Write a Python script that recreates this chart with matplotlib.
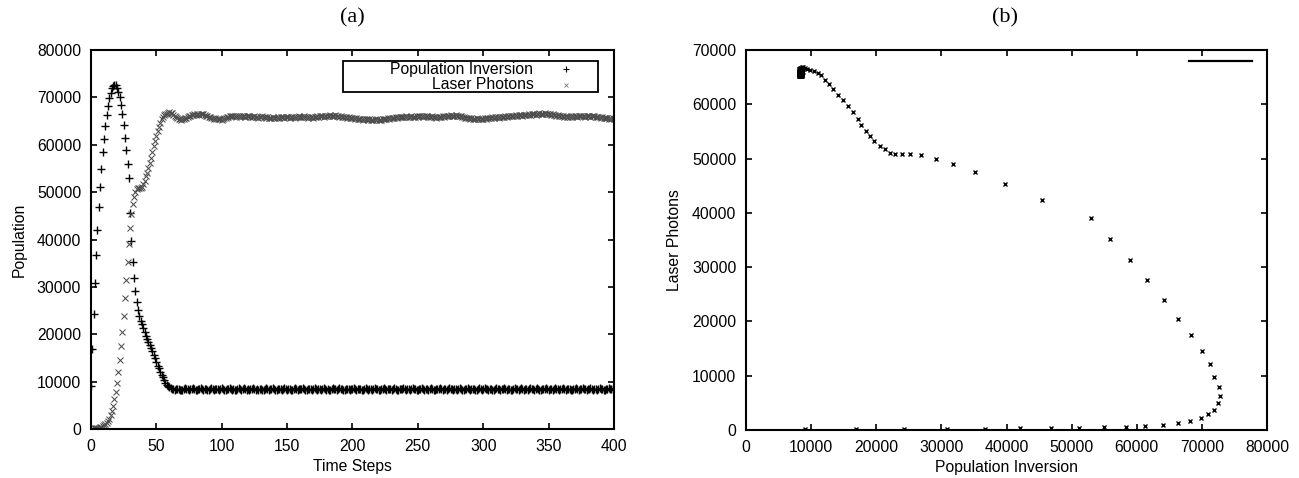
import numpy as np
import matplotlib
matplotlib.use("Agg")
import matplotlib.pyplot as plt
from matplotlib.patches import Rectangle

# Values are in hundreds, one value per time step (t = 0 .. 400)
POP_INVERSION = [
    90, 169, 243, 308, 367, 420, 469, 511, 549, 584, 613, 640, 663, 682, 698, 710, 719, 724, 727, 726,
    719, 712, 700, 683, 664, 642, 615, 589, 559, 529, 455, 397, 352, 318, 291, 268, 252, 239, 229, 221,
    213, 205, 197, 190, 184, 177, 172, 165, 157, 149, 141, 133, 128, 121, 115, 110, 104, 98,
    93, 90, 88, 86, 85, 84, 83, 84, 85, 84, 83, 82, 83, 84, 86, 85, 84, 83, 84, 85,
    86, 84, 83, 82, 84, 85, 86, 84, 83, 84, 85, 83, 82, 84, 86, 85, 83, 84, 85, 84,
    83, 85, 86, 84, 82, 83, 85, 84, 86, 85, 83, 84, 82, 83, 85, 86, 84, 83, 84, 86,
    85, 83, 84, 82, 84, 85, 87, 85, 83, 84, 83, 85, 84, 82, 83, 85, 86, 84, 83, 85,
    84, 86, 85, 83, 82, 84, 85, 84, 83, 85, 86, 84, 83, 84, 85, 83, 82, 84, 86, 85,
    83, 84, 85, 84, 86, 85, 83, 82, 84, 85, 84, 83, 85, 86, 84, 83, 84, 85, 83, 84,
    86, 85, 83, 84, 82, 83, 85, 86, 84, 85, 83, 84, 86, 85, 84, 83, 82, 84, 85, 84,
    83, 85, 84, 86, 85, 83, 84, 85, 84, 82, 83, 85, 86, 84, 83, 84, 85, 83, 84, 86,
    85, 84, 83, 82, 84, 85, 86, 85, 83, 84, 85, 84, 83, 85, 86, 84, 82, 83, 85, 84,
    84, 86, 85, 83, 84, 85, 83, 84, 86, 85, 84, 83, 82, 84, 85, 86, 84, 83, 85, 84,
    83, 84, 86, 85, 83, 82, 84, 85, 84, 86, 85, 83, 84, 85, 83, 84, 86, 85, 84, 83,
    85, 84, 83, 85, 86, 84, 82, 83, 85, 84, 86, 85, 83, 84, 85, 84, 83, 82, 84, 86,
    85, 83, 84, 86, 85, 84, 83, 85, 84, 82, 83, 85, 86, 84, 85, 83, 84, 85, 86, 84,
    83, 84, 85, 83, 82, 84, 86, 85, 84, 83, 85, 86, 84, 83, 84, 85, 83, 84, 86, 85,
    84, 83, 85, 86, 84, 83, 82, 84, 85, 84, 86, 85, 83, 84, 85, 83, 84, 86, 85, 84,
    83, 85, 84, 86, 85, 83, 84, 85, 84, 83, 82, 84, 85, 86, 84, 83, 85, 84, 86, 85,
    84, 83, 85, 84, 86, 85, 83, 84, 85, 83, 84, 86, 85, 84, 83, 82, 84, 85, 86, 84,
    85, 84, 83,
]

LASER_PHOTONS = [
    1, 1, 2, 2, 2, 3, 3, 4, 5, 6, 8, 10, 12, 17, 22, 29, 37, 49, 63, 79,
    98, 121, 146, 175, 205, 239, 276, 314, 352, 390, 424, 453, 475, 490, 500, 507, 509, 509, 508, 510,
    517, 524, 533, 541, 551, 562, 573, 585, 597, 608, 618, 629, 637, 645, 654, 658, 662, 664,
    665, 667, 669, 668, 666, 663, 660, 658, 656, 655, 654, 653, 654, 655, 656, 657, 658, 660, 661, 662,
    663, 664, 663, 665, 664, 663, 664, 665, 664, 662, 661, 660, 659, 658, 657, 656, 655, 656, 654, 655,
    654, 655, 653, 654, 656, 657, 658, 659, 660, 661, 660, 661, 660, 659, 661, 660, 659, 660, 661, 660,
    659, 660, 661, 660, 659, 658, 659, 660, 659, 658, 657, 658, 659, 660, 659, 658, 657, 658, 657, 656,
    657, 658, 657, 656, 657, 658, 657, 658, 659, 658, 657, 658, 659, 658, 657, 658, 659, 658, 657, 658,
    659, 660, 659, 658, 659, 660, 659, 658, 657, 658, 659, 658, 657, 658, 659, 660, 659, 660, 661, 660,
    659, 660, 661, 660, 661, 662, 661, 660, 661, 662, 661, 660, 659, 660, 659, 658, 659, 658, 657, 658,
    657, 656, 657, 656, 655, 656, 655, 654, 655, 654, 653, 654, 655, 654, 653, 654, 653, 652, 653, 654,
    653, 654, 653, 652, 653, 654, 655, 654, 655, 656, 655, 656, 657, 656, 657, 658, 657, 658, 659, 658,
    659, 658, 659, 660, 659, 658, 659, 660, 659, 658, 659, 660, 659, 660, 661, 660, 659, 660, 661, 660,
    659, 658, 659, 660, 659, 658, 657, 658, 659, 658, 659, 660, 659, 660, 661, 660, 661, 662, 661, 660,
    661, 662, 661, 660, 661, 660, 659, 658, 657, 656, 657, 656, 655, 656, 655, 654, 655, 656, 655, 654,
    655, 654, 655, 656, 655, 656, 657, 656, 657, 658, 657, 658, 659, 658, 657, 658, 659, 658, 659, 660,
    659, 660, 661, 660, 661, 660, 661, 662, 661, 662, 663, 662, 661, 662, 663, 662, 663, 664, 663, 664,
    665, 664, 663, 664, 665, 666, 665, 664, 665, 666, 665, 664, 665, 664, 663, 664, 663, 662, 661, 662,
    661, 660, 661, 660, 659, 660, 659, 658, 659, 660, 659, 660, 661, 660, 659, 660, 661, 660, 661, 660,
    659, 660, 661, 660, 659, 660, 661, 660, 659, 658, 659, 658, 657, 658, 657, 656, 657, 656, 655, 656,
    655, 656, 655,
]

SCALE = 100

plt.rcParams["font.family"] = ["Liberation Sans", "DejaVu Sans"]
plt.rcParams["font.size"] = 11.3

n = min(len(POP_INVERSION), len(LASER_PHOTONS))
t = np.arange(n)
pop = np.array(POP_INVERSION[:n]) * SCALE
las = np.array(LASER_PHOTONS[:n]) * SCALE

fig = plt.figure(figsize=(12.99, 4.78), dpi=100)
ax_a = fig.add_axes([0.070, 0.1025, 0.4027, 0.7929])
ax_b = fig.add_axes([0.5743, 0.1004, 0.4011, 0.7950])


def style_axes(ax):
    for sp in ax.spines.values():
        sp.set_linewidth(1.5)
    ax.tick_params(direction="in", top=True, right=True, length=4.5, width=1.2,
                   labelsize=11.3, pad=7)


# --- (a) time series ---
ax_a.plot(t, pop, linestyle="none", marker="+", markersize=5.3, mew=1.0, color="black")
ax_a.plot(t, las, linestyle="none", marker="x", markersize=4.4, mew=0.75, color="#4d4d4d")
ax_a.set_xlim(0, 400)
ax_a.set_ylim(0, 80000)
ax_a.set_xticks(np.arange(0, 401, 50))
ax_a.set_yticks(np.arange(0, 80001, 10000))
ax_a.set_xlabel("Time Steps", labelpad=4)
ax_a.set_ylabel("Population", labelpad=7)
style_axes(ax_a)
fig.text(0.271, 0.962, "(a)", family="Liberation Serif", fontsize=16, ha="center", va="center")

# gnuplot-style key: right-aligned text followed by the marker sample
ax_a.add_patch(Rectangle((0.481, 0.888), 0.488, 0.084, transform=ax_a.transAxes,
                         fill=False, lw=1.3, ec="black", zorder=5))
ax_a.text(0.846, 0.949, "Population Inversion", transform=ax_a.transAxes,
          ha="right", va="center")
ax_a.text(0.846, 0.908, "Laser Photons", transform=ax_a.transAxes,
          ha="right", va="center")
ax_a.plot([0.909], [0.949], transform=ax_a.transAxes, marker="+", markersize=4,
          mew=0.8, color="black", linestyle="none")
ax_a.plot([0.909], [0.908], transform=ax_a.transAxes, marker="x", markersize=3.5,
          mew=0.6, color="#777777", linestyle="none")

# --- (b) phase plot ---
ax_b.plot(pop, las, linestyle="none", marker="x", markersize=2.8, mew=1.0, color="black")
ax_b.set_xlim(0, 80000)
ax_b.set_ylim(0, 70000)
ax_b.set_xticks(np.arange(0, 80001, 10000))
ax_b.set_yticks(np.arange(0, 70001, 10000))
ax_b.set_xlabel("Population Inversion", labelpad=4)
ax_b.set_ylabel("Laser Photons", labelpad=7)
style_axes(ax_b)
ax_b.plot([0.85, 0.971], [0.972, 0.972], transform=ax_b.transAxes, color="black", lw=1.6)
fig.text(0.7737, 0.962, "(b)", family="Liberation Serif", fontsize=16, ha="center", va="center")

fig.savefig("out.png", dpi=100)
